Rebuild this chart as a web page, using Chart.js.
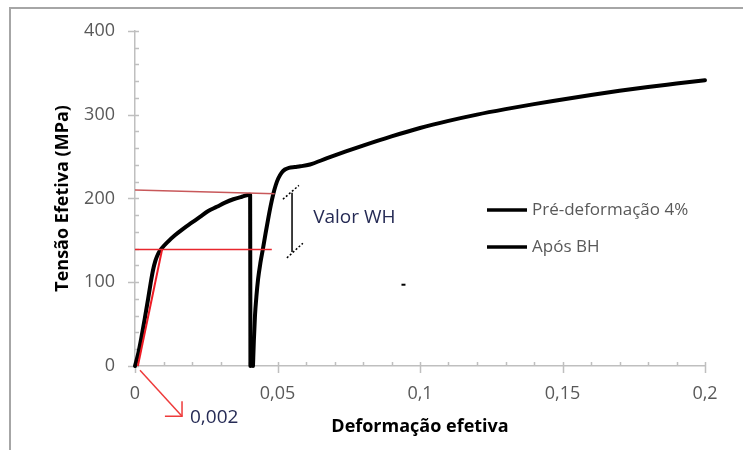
<!DOCTYPE html>
<html>
<head>
<meta charset="utf-8">
<script src="https://cdn.jsdelivr.net/npm/chart.js@4.4.1/dist/chart.umd.min.js"></script>
<style>
  html, body { margin: 0; padding: 0; background: #fff; }
  #wrap { width: 743px; height: 450px; }
</style>
</head>
<body>
<div id="wrap"><canvas id="chart" width="743" height="450"></canvas></div>
<script>
// Curves: strain (-) vs effective stress (MPa)
const preStrain = [0, 0.0012, 0.0023, 0.0035, 0.0046, 0.0055, 0.0063, 0.0072, 0.0082, 0.0094, 0.0116, 0.014, 0.017, 0.0199, 0.0228, 0.0257, 0.0287, 0.0316, 0.0345, 0.0375, 0.0404, 0.0405];
const preStress = [0, 16, 35, 58, 80, 99, 114, 126, 134.5, 140.5, 148.5, 156, 164, 171, 178, 185, 190, 195, 199, 202, 204.5, 0];

const bhStrain = [0.0414, 0.0417, 0.0421, 0.0426, 0.0432, 0.044, 0.0449, 0.0458, 0.0467, 0.0476, 0.0485, 0.0494, 0.0503, 0.0514, 0.0526, 0.054, 0.0561, 0.058, 0.0614, 0.0674, 0.074, 0.08, 0.09, 0.1, 0.11, 0.12, 0.13, 0.14, 0.15, 0.16, 0.17, 0.18, 0.19, 0.2];
const bhStress = [0, 30, 60, 83, 104, 123, 140, 158, 175, 191, 205, 216, 224, 230.5, 234.5, 236.5, 237.5, 238.3, 240.5, 248, 256, 263, 274, 284, 292.5, 300, 306.5, 312.5, 318, 323.5, 328.5, 333, 337, 341];

const seriesNames = ['Pré-deformação 4%', 'Após BH'];
const xLabelled = [0, 0.05, 0.1, 0.15, 0.2];
const yLabelled = [0, 100, 200, 300, 400];

// red helper lines drawn on the figure
const topRedX = [0, 0.049],  topRedY = [210, 205.5];
const lowRedX = [0, 0.048],  lowRedY = [139, 139];
const elasticX = [0.001, 0.0095], elasticY = [0, 139];
const arrowX = [0.00175, 0.0165], arrowY = [-5, -60];
const arrowHeadX = [0.0105, 0.0165, 0.0165], arrowHeadY = [-60, -60, -42];

// "Valor WH" bracket
const bracketX = [0.0551, 0.0551], bracketY = [206.6, 136];
const capTopX = [0.0519, 0.0575], capTopY = [199, 215.5];
const capLowX = [0.0533, 0.0589], capLowY = [129, 146.5];
const specX = [0.0935, 0.0949], specY = [97, 97];

const pts = (xs, ys) => xs.map((x, i) => ({ x, y: ys[i] }));

const fmtComma = v => String(Math.round(v * 1000) / 1000).replace('.', ',');
const isLabelled = (list, v) => list.some(t => Math.abs(t - v) < 1e-6);

Chart.defaults.font.family = "'Open Sans', sans-serif";

const line = (data, color, width, extra) => Object.assign({
  data, borderColor: color, borderWidth: width, pointRadius: 0, tension: 0,
  fill: false, showLine: true, clip: false
}, extra || {});

const framePlugin = {
  id: 'frame',
  beforeDraw(chart) {
    const ctx = chart.ctx;
    ctx.save();
    ctx.strokeStyle = '#a6a6a6';
    ctx.lineWidth = 2;
    ctx.beginPath();
    ctx.moveTo(10, 450);
    ctx.lineTo(10, 8);
    ctx.lineTo(743, 8);
    ctx.stroke();
    ctx.restore();
  }
};

// major ticks cross the axis, minor ones sit inside the plot
const tickPlugin = {
  id: 'tickmarks',
  beforeDatasetsDraw(chart) {
    const { ctx, scales: { x, y } } = chart;
    ctx.save();
    ctx.strokeStyle = '#bfbfbf';
    ctx.lineWidth = 1.5;
    ctx.beginPath();
    x.ticks.forEach(t => {
      const px = Math.round(x.getPixelForValue(t.value)) + 0.5;
      const major = isLabelled(xLabelled, t.value);
      ctx.moveTo(px, y.bottom + (major ? 7 : 0));
      ctx.lineTo(px, y.bottom - 4);
    });
    y.ticks.forEach(t => {
      const py = Math.round(y.getPixelForValue(t.value)) + 0.5;
      const major = isLabelled(yLabelled, t.value);
      ctx.moveTo(x.left - (major ? 7 : 0), py);
      ctx.lineTo(x.left + 4, py);
    });
    ctx.stroke();
    ctx.restore();
  }
};

const textPlugin = {
  id: 'notes',
  afterDraw(chart) {
    const { ctx, scales: { x, y } } = chart;
    ctx.save();
    ctx.textBaseline = 'middle';
    ctx.textAlign = 'left';

    ctx.fillStyle = '#262b55';
    ctx.font = "19px 'Open Sans', sans-serif";
    ctx.fillText('Valor WH', x.getPixelForValue(0.0625), y.getPixelForValue(177));
    ctx.fillText('0,002', x.getPixelForValue(0.0193), y.getPixelForValue(-61));

    // legend
    ctx.font = "17px 'Open Sans', sans-serif";
    ctx.fillStyle = '#595959';
    ctx.strokeStyle = '#000';
    ctx.lineWidth = 3.5;
    seriesNames.forEach((name, i) => {
      const ly = 210 + i * 37;
      ctx.beginPath();
      ctx.moveTo(487, ly);
      ctx.lineTo(527, ly);
      ctx.stroke();
      ctx.fillText(name, 532, ly);
    });
    ctx.restore();
  }
};

const curve = { borderJoinStyle: 'round', borderCapStyle: 'round', cubicInterpolationMode: 'monotone' };

new Chart(document.getElementById('chart'), {
  type: 'scatter',
  data: {
    datasets: [
      line(pts(topRedX, topRedY), '#c8585a', 1.5),
      line(pts(lowRedX, lowRedY), '#e8262d', 1.5),
      line(pts(elasticX, elasticY), '#ee1c25', 2),
      line(pts(arrowX, arrowY), '#ee3b3b', 1.5),
      line(pts(arrowHeadX, arrowHeadY), '#ee3b3b', 1.5),
      line(pts(bracketX, bracketY), '#000', 1.5),
      line(pts(capTopX, capTopY), '#000', 1.5, { borderDash: [2, 2] }),
      line(pts(capLowX, capLowY), '#000', 1.5, { borderDash: [2, 2] }),
      line(pts(specX, specY), '#000', 2),
      line(pts(preStrain, preStress), '#000', 4, Object.assign({ label: seriesNames[0] }, curve)),
      line(pts(bhStrain, bhStress), '#000', 4, Object.assign({ label: seriesNames[1] }, curve))
    ]
  },
  options: {
    responsive: false,
    animation: false,
    layout: { padding: { top: 25, right: 38, bottom: 0, left: 0 } },
    plugins: { legend: { display: false }, tooltip: { enabled: false } },
    scales: {
      x: {
        type: 'linear',
        min: 0, max: 0.2,
        grid: { display: false, drawTicks: false },
        border: { color: '#bfbfbf', width: 1.5 },
        ticks: {
          stepSize: 0.01, autoSkip: false, maxRotation: 0, padding: 17,
          color: '#595959', font: { size: 18 },
          callback: v => isLabelled(xLabelled, v) ? fmtComma(v) : ''
        },
        title: {
          display: true, text: 'Deformação efetiva', color: '#000',
          font: { size: 18, weight: 'bold' }, padding: { top: 0, bottom: 12 }
        },
        afterFit: s => { s.height = 84; }
      },
      y: {
        min: 0, max: 400,
        grid: { display: false, drawTicks: false },
        border: { color: '#bfbfbf', width: 1.5 },
        ticks: {
          stepSize: 20, autoSkip: false, padding: 20,
          color: '#595959', font: { size: 18 },
          callback: v => isLabelled(yLabelled, v) ? String(v) : ''
        },
        title: {
          display: true, text: 'Tensão Efetiva (MPa)', color: '#000',
          font: { size: 18, weight: 'bold' }, padding: { top: 52, bottom: 0 }
        },
        afterFit: s => { s.width = 135; }
      }
    }
  },
  plugins: [framePlugin, tickPlugin, textPlugin]
});
</script>
</body>
</html>
